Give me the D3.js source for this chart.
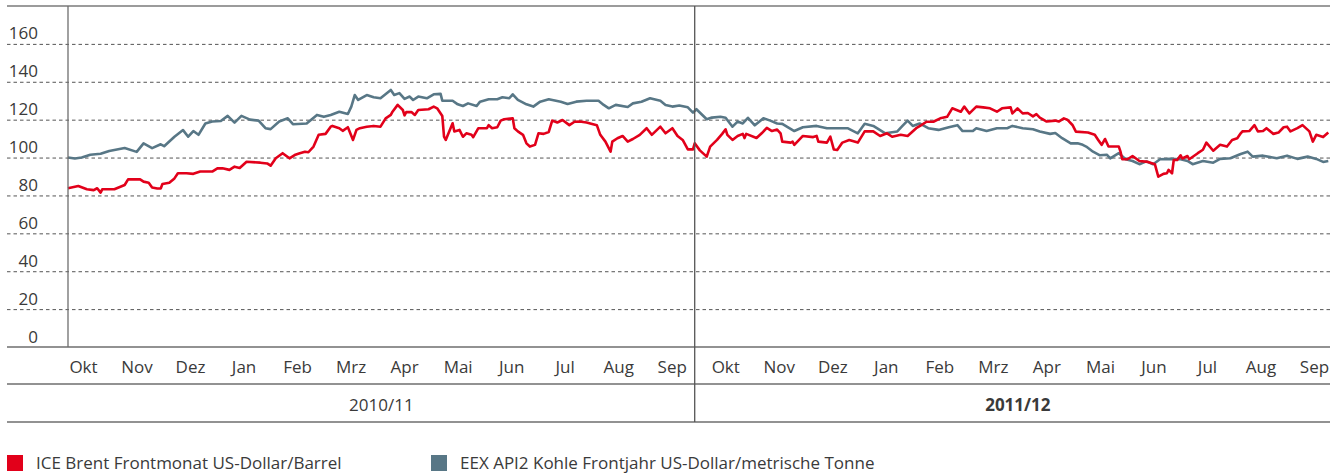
<!DOCTYPE html>
<html><head><meta charset="utf-8">
<script src="https://cdn.jsdelivr.net/npm/d3@7"></script>
<style>
html,body{margin:0;padding:0;background:#fff;}
svg{display:block;font-family:"Open Sans",sans-serif;}
</style></head>
<body>
<svg id="chart" width="1342" height="475"></svg>
<script>
// ---- data (days since 1 Oct 2010, values) ----
const startDate = new Date(2010, 9, 1);
const brentDays = [0,6,11,15,17,19,20,27,33,35,42,44,47,49,52,54,55,59,62,64,69,73,77,84,87,90,94,97,100,104,112,116,118,121,125,129,132,135,138,140,143,146,150,153,154,158,160,163,166,168,170,174,178,182,185,188,189,192,195,196,197,200,202,204,210,213,215,218,219,220,224,225,228,230,232,235,236,239,244,245,247,250,252,254,259,260,262,265,267,269,272,274,277,280,282,285,288,292,295,298,302,308,310,313,316,317,320,323,326,329,333,337,340,345,348,352,355,358,361,364,365,368,372,374,378,381,383,384,387,390,393,394,395,401,404,407,410,413,415,416,421,422,423,428,434,436,437,442,444,446,448,451,455,460,464,469,473,477,480,485,489,494,497,500,504,508,512,515,520,522,525,529,533,537,541,544,549,550,553,556,559,562,564,566,570,575,577,580,582,585,587,594,598,600,602,604,606,612,613,614,617,620,624,629,633,635,638,640,641,643,644,646,648,649,652,653,658,661,663,667,671,675,678,681,683,684,688,691,693,696,698,702,705,708,710,712,716,719,723,725,727,731,734];
const brentValues = [83.8,85,83.3,82.8,83.8,81.5,83.3,83.3,85.5,88.5,88.5,87.3,86.7,84.2,83.7,83.7,86,86.7,89,91.7,91.7,91.4,92.6,92.6,94.3,94.3,93.5,95.2,94.5,97.8,97.3,96.9,95.7,99.6,102.3,99.6,101.3,102.3,103.1,102.8,105.8,112,112.5,116.3,116.7,115.5,114.1,116,109.3,114.6,115.5,116.3,116.7,116.3,120.7,122.5,124.2,127.8,125.1,122.3,124,124,122.5,125.1,125.5,126.9,126,121.9,111,109.3,118.1,113.8,114.6,111,112.8,112,110.8,115.5,115.5,117.1,115.5,116,119.5,120.2,120.7,115.5,113.8,112,107.5,105.8,106.7,112.8,112.5,113.5,119.5,118.5,119.8,117.1,118.9,119,118.5,117.1,112,108.4,103.1,108.4,110.2,111.4,108.4,109.8,112,115.5,112,116.3,112.8,115.5,111.4,109.3,104.3,104.3,107.5,103.8,100.5,105.8,109.3,112.5,114.9,112,109.3,111.4,112.5,110.3,112.5,110.3,112.8,115.7,114,114.8,112.8,108.4,107.9,108.4,106.7,111.4,110.8,111.4,108.4,107.9,111,104.3,104,107.9,109.3,107.9,113.8,113.8,111.4,112.8,111,112,111.4,115.5,117.1,118.9,118.9,120.7,121.5,126,124.2,126.9,123.3,126.9,126.5,126,124.2,126,126.5,123.3,126,123.3,123.5,121.7,122.9,121.1,119,119.5,119,120.7,120,117.2,113.7,113.2,112,109.3,106.7,109.8,105.8,105.8,103.1,99.1,99.1,100.8,98.2,97.7,96.5,89.9,91.4,91.7,93.5,91.7,98.7,98.7,101.2,99.5,100.8,99.1,102.3,104.1,107.9,103.6,106.7,105.8,109.3,110.2,112.8,113.8,114,117.1,113.8,114,115.5,112.5,113.2,116,116.3,113.8,115.5,117.1,113.8,108.4,112,110.8,113.2];
const coalDays = [0,4,8,13,19,24,33,40,44,49,54,56,62,67,70,73,76,80,84,89,93,97,101,106,111,115,118,123,128,131,139,145,149,153,158,163,165,167,169,174,178,182,188,190,193,196,199,201,204,209,213,217,218,224,227,230,233,238,240,245,250,253,257,259,262,267,271,275,280,287,291,296,302,309,312,315,319,326,329,334,339,345,348,352,356,361,364,366,372,375,380,383,387,390,393,396,400,405,409,413,416,423,428,436,442,448,454,460,464,469,476,483,486,489,492,496,501,507,513,518,521,527,529,535,541,547,550,556,562,566,572,575,579,584,588,591,593,597,601,605,607,612,616,620,624,628,632,636,642,648,652,655,661,667,671,677,683,687,690,696,704,710,716,722,727,731,734];
const coalValues = [100,99.5,100,101.5,102,103.5,105,103,107.5,105,107,106,111,114.5,111,114,112,118,119,119.3,122,118.4,122,120,119.5,115.5,115,119,120.7,117.6,118,122.5,121.5,122.5,124.2,123,126.9,133,130.4,133,131.8,131.3,135.7,133,134,131,132.2,130.4,132.2,131.3,133.4,133.6,130,130,128.1,127.2,128.6,127.2,129.5,130.8,130.8,131.8,131.3,133.4,130.4,128.1,126.9,129.5,130.8,129.5,128.3,129.5,130,130,127.8,126,127.8,126.7,128.6,129.5,131.3,130,127.8,126.9,127.5,126.5,123.7,125.5,120.2,121.1,121.5,121,116.3,119,118,121,117,120.7,119.5,118,117.8,114,116,116.7,115.5,115.5,115.5,112.8,117.8,116.7,112.8,113.8,116.7,119.5,116.7,118,115.5,114.6,116,117.1,114,114,115.5,114,115.5,115.5,116.7,115.5,114.9,113.7,112.5,113,110.2,107.5,107.5,106.7,105.8,103.1,101.2,101.5,99.6,102.3,99.1,98.2,96.5,98,96.5,99.1,99.3,99.1,98.2,96.5,98.2,97.3,99.3,99.6,101.9,103.1,100.5,101,99.6,101,99.3,100.5,99.3,97.7,98.2];
const monthLabels = ["Okt","Nov","Dez","Jan","Feb","Mrz","Apr","Mai","Jun","Jul","Aug","Sep"];
const yearLabels = ["2010/11","2011/12"];
const yTicks = [0,20,40,60,80,100,120,140,160];
const seriesNames = ["ICE Brent Frontmonat US-Dollar/Barrel","EEX API2 Kohle Frontjahr US-Dollar/metrische Tonne"];
const seriesColors = ["#e2001a","#587786"];

// ---- layout ----
const svg = d3.select("#chart");
const left = 7, right = 1330, plotL = 68;
const fs = 17;
const textCol = "#3a3a3a", lineCol = "#6e6e6e";
const x = d3.scaleTime().domain([startDate, d3.timeDay.offset(startDate, 735)]).range([plotL, right]);
const y = d3.scaleLinear().domain([0, 180]).range([347, 6]);

// y grid + labels via axis
const yAxis = d3.axisRight(y).tickValues(yTicks).tickSize(right - left).tickFormat(d3.format("d"));
const gy = svg.append("g").attr("transform", `translate(${left},0)`).call(yAxis);
gy.select(".domain").remove();
gy.selectAll(".tick line").attr("stroke", "#555").attr("stroke-dasharray", "3.5,3").attr("stroke-width", 1)
  .filter(d => d === 0).remove();
gy.selectAll(".tick text").attr("x", 31).attr("y", 0).attr("dy", "-5").attr("text-anchor", "end")
  .attr("font-size", fs).attr("fill", textCol).attr("font-family", "Open Sans");

// top border
svg.append("line").attr("x1", left).attr("x2", right).attr("y1", y(180)).attr("y2", y(180))
  .attr("stroke", "#7a7a7a").attr("stroke-width", 1.5);

// lines
const line = d3.line().x(d => x(d.date)).y(d => y(d.v));
const mk = (days, vals) => days.map((d, i) => ({date: d3.timeDay.offset(startDate, d), v: vals[i]}));
const series = [mk(brentDays, brentValues), mk(coalDays, coalValues)];
[1, 0].forEach(i => {
  svg.append("path").datum(series[i]).attr("d", line).attr("fill", "none")
    .attr("stroke", seriesColors[i]).attr("stroke-width", 2.6).attr("stroke-linejoin", "round");
});

// axes lines
svg.append("line").attr("x1", plotL).attr("x2", plotL).attr("y1", y(180)).attr("y2", y(0))
  .attr("stroke", lineCol).attr("stroke-width", 1.3);
svg.append("line").attr("x1", left).attr("x2", right).attr("y1", y(0)).attr("y2", y(0))
  .attr("stroke", lineCol).attr("stroke-width", 1.5);

// month labels
const monthKeys = d3.range(24);
const mx = d3.scalePoint().domain(monthKeys).range([83, 1314]);
const xAxis = d3.axisBottom(mx).tickSize(0).tickFormat(i => monthLabels[i % 12]);
const gx = svg.append("g").attr("transform", `translate(0,${y(0)})`).call(xAxis);
gx.select(".domain").remove();
gx.selectAll(".tick text").attr("y", 26).attr("dy", 0).attr("font-size", fs)
  .attr("fill", textCol).attr("font-family", "Open Sans");

const rowLine1 = 384, rowLine2 = 422;
svg.append("line").attr("x1", left).attr("x2", right).attr("y1", rowLine1).attr("y2", rowLine1)
  .attr("stroke", lineCol).attr("stroke-width", 1.5);
svg.append("line").attr("x1", left).attr("x2", right).attr("y1", rowLine2).attr("y2", rowLine2)
  .attr("stroke", lineCol).attr("stroke-width", 1.5);

// year divider
const divX = x(d3.timeDay.offset(startDate, 365));
svg.append("line").attr("x1", divX).attr("x2", divX).attr("y1", y(180)).attr("y2", rowLine2)
  .attr("stroke", "#555").attr("stroke-width", 1.3);

// year labels
const yearCenters = [(plotL + divX) / 2, (divX + 1341) / 2];
yearLabels.forEach((t, i) => {
  svg.append("text").attr("x", yearCenters[i]).attr("y", 411).attr("text-anchor", "middle")
    .attr("font-size", fs).attr("font-weight", i === 1 ? "bold" : "normal")
    .attr("fill", textCol).text(t);
});

// legend
const legX = [7, 431];
seriesNames.forEach((t, i) => {
  svg.append("rect").attr("x", legX[i]).attr("y", 455).attr("width", 16).attr("height", 16).attr("fill", seriesColors[i]);
  svg.append("text").attr("x", legX[i] + 29).attr("y", 469).attr("font-size", fs).attr("fill", textCol).text(t);
});
</script>
</body></html>
